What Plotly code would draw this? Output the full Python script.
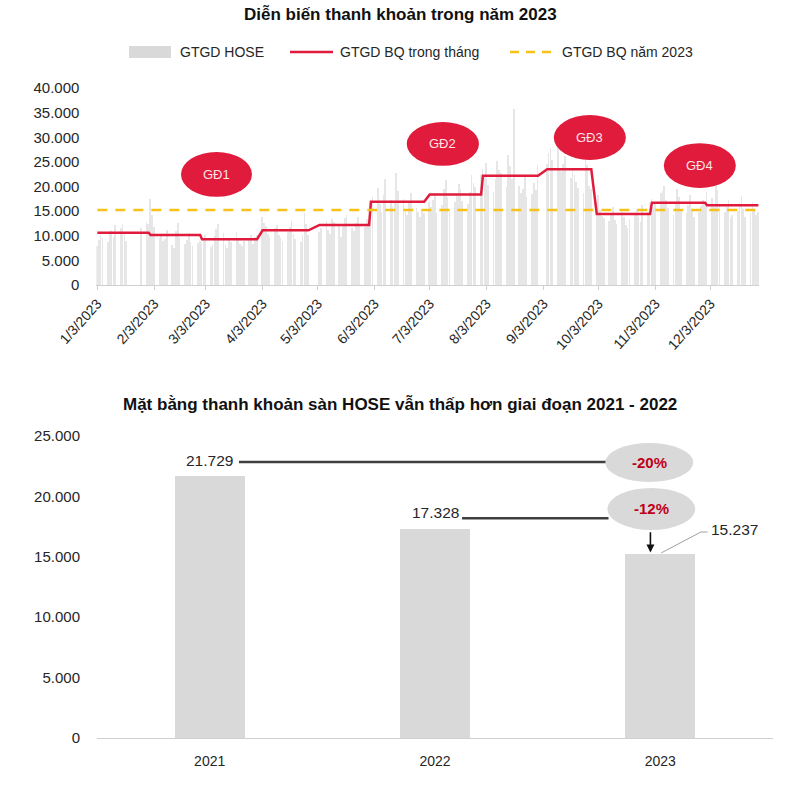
import pandas as pd
import plotly.graph_objects as go

# ---------------- DATA ----------------
holidays = ["2023-01-20", "2023-01-23", "2023-01-24", "2023-01-25", "2023-01-26",
            "2023-05-01", "2023-05-02", "2023-05-03", "2023-09-01", "2023-09-04"]

jan = [7900, 9200, 10100, 9500, 8700, 10900, 11200, 9800, 12100, 11600, 12400, 10300, 8900, 11500, 12800, 12300]
feb = [17500, 14200, 11800, 9600, 10400, 8900, 9300, 11200, 8100, 7600, 10900, 12500, 9800, 8400, 9100, 10600,
       8700, 7900, 8500, 9000]
mar = [8600, 9400, 10200, 7800, 8100, 9900, 11300, 12400, 10600, 8200, 7500, 9100, 8800, 10700, 9500, 8300,
       7900, 8900, 9600, 10100, 8400, 9800, 10200]
apr = [13800, 12600, 11900, 10400, 9800, 11500, 12200, 10100, 9600, 8900, 10700, 11800, 12900, 10300, 9400,
       8800, 10200, 14600, 12400, 10100]
may = [10800, 11600, 12900, 11200, 10400, 13500, 12800, 11900, 9800, 12400, 13700, 14200, 11500, 10900, 12600,
       13800, 12100, 11700, 13400, 12800]
jun = [15200, 17800, 19600, 16400, 14900, 18300, 21500, 17200, 15800, 16600, 22800, 19100, 17400, 15300, 14200,
       16900, 18700, 15600, 14800, 13900, 15100, 14700]
jul = [16800, 15900, 17300, 18600, 14700, 16200, 19500, 21300, 17900, 15400, 16800, 18200, 20600, 19400, 17100,
       16500, 18900, 22400, 20700, 19800, 22400]
aug = [23500, 22100, 24800, 20300, 18900, 21600, 25200, 23400, 22700, 19800, 26300, 24100, 21500, 35800, 20200,
       18600, 19400, 21900, 17800, 18500, 20700, 19300, 24300]
sep = [24600, 26800, 27900, 25300, 28400, 23700, 22900, 24500, 26100, 21800, 23200, 22400, 20900, 19600, 18700,
       25800, 24300, 20100, 19500]
oct_ = [16800, 18200, 15300, 14100, 13600, 12900, 14700, 15800, 13200, 12400, 14900, 13800, 12100, 11600, 13400,
        14200, 15500, 13900, 12700, 16300, 14800, 16600]
nov = [17400, 15800, 16900, 18600, 19000, 20100, 17300, 15600, 14200, 16800, 19400, 17900, 15100, 14600, 16200,
       18300, 15400, 13800, 14900, 16100, 17200, 16800]
dec = [18900, 17600, 15800, 21400, 19200, 16500, 14800, 15900, 17300, 13600, 14200, 15100, 16700, 18100, 15400,
       13900, 14600, 16800, 15200, 14300, 14900]
daily_months = [jan, feb, mar, apr, may, jun, jul, aug, sep, oct_, nov, dec]

monthly_avg = [10630, 10160, 9290, 11100, 12200, 16900, 18400, 22200, 23500, 14400, 16700, 16200]
year_avg_2023 = 15237

month_ticks = ["2023-01-03", "2023-02-03", "2023-03-03", "2023-04-03", "2023-05-03", "2023-06-03",
               "2023-07-03", "2023-08-03", "2023-09-03", "2023-10-03", "2023-11-03", "2023-12-03"]
month_tick_text = ["1/3/2023", "2/3/2023", "3/3/2023", "4/3/2023", "5/3/2023", "6/3/2023",
                   "7/3/2023", "8/3/2023", "9/3/2023", "10/3/2023", "11/3/2023", "12/3/2023"]

years = ["2021", "2022", "2023"]
year_avg = [21729, 17328, 15237]
year_labels = ["21.729", "17.328", "15.237"]
changes = ["-20%", "-12%"]
legend_names = ["GTGD HOSE", "GTGD BQ trong tháng", "GTGD BQ năm 2023"]

# ---------------- BUILD ----------------
dates = pd.bdate_range("2023-01-03", "2023-12-29")
dates = dates[~dates.isin(pd.to_datetime(holidays))]
daily = []
month_line = []
for m, vals in enumerate(daily_months):
    n = int((dates.month == m + 1).sum())
    assert n == len(vals), (m + 1, n, len(vals))
    daily.extend(vals)
    month_line.extend([monthly_avg[m]] * n)

W, H = 800, 796


def fx(X):
    return X / W


def fy(Y):
    return 1 - Y / H


FONT = "Liberation Sans, Arial, sans-serif"
RED = "#e01b3c"
GRAY = "#d9d9d9"
BARGRAY = "#e6e6e6"
YEL = "#f5c21b"
TXT = "#262626"

fig = go.Figure()
fig.add_trace(go.Bar(x=dates, y=daily, name=legend_names[0], marker=dict(color=BARGRAY, line_width=0),
                     width=86400000 * 0.38, xaxis="x", yaxis="y"))
fig.add_trace(go.Scatter(x=dates, y=month_line, mode="lines", name=legend_names[1],
                         line=dict(color=RED, width=2.5), xaxis="x", yaxis="y"))
fig.add_trace(go.Scatter(x=[dates[0], dates[-1]], y=[year_avg_2023, year_avg_2023], mode="lines",
                         name=legend_names[2], line=dict(color=YEL, width=2.5, dash="10px,8px"),
                         xaxis="x", yaxis="y"))
fig.add_trace(go.Bar(x=years, y=year_avg, marker=dict(color=GRAY, line_width=0), width=0.31,
                     xaxis="x2", yaxis="y2"))

shapes = []
annos = []

# custom legend
LY = 52
shapes.append(dict(type="rect", xref="paper", yref="paper", x0=fx(129), x1=fx(171), y0=fy(LY + 6), y1=fy(LY - 6),
                   fillcolor=GRAY, line=dict(width=0)))
shapes.append(dict(type="line", xref="paper", yref="paper", x0=fx(290), x1=fx(333), y0=fy(LY), y1=fy(LY),
                   line=dict(color=RED, width=2.5)))
shapes.append(dict(type="line", xref="paper", yref="paper", x0=fx(510), x1=fx(556), y0=fy(LY), y1=fy(LY),
                   line=dict(color=YEL, width=2.5, dash="9px,7px")))
for xx, name in zip([178, 338, 560], legend_names):
    annos.append(dict(x=fx(xx), y=fy(LY), xref="paper", yref="paper", text=name, showarrow=False,
                      xanchor="left", yanchor="middle", font=dict(family=FONT, size=14, color=TXT)))

# top ellipses
ell = [("GĐ1", "2023-02-17 14:00", "2023-03-28 05:00", 17900, 27000),
       ("GĐ2", "2023-06-20 12:00", "2023-07-29 20:00", 24200, 33100),
       ("GĐ3", "2023-09-08 14:00", "2023-10-17 20:00", 25400, 34500),
       ("GĐ4", "2023-11-07 12:00", "2023-12-16 17:00", 19700, 28800)]
for t, x0, x1, y0, y1 in ell:
    shapes.append(dict(type="circle", xref="x", yref="y", x0=x0, x1=x1, y0=y0, y1=y1,
                       fillcolor=RED, line=dict(width=0), layer="above"))
    xm = pd.Timestamp(x0) + (pd.Timestamp(x1) - pd.Timestamp(x0)) / 2
    annos.append(dict(x=xm, y=(y0 + y1) / 2, xref="x", yref="y", text=t, showarrow=False,
                      font=dict(family=FONT, size=13, color="#fbe3e6")))

# bottom chart annotations
annos.append(dict(x=0, y=23000, xref="x2", yref="y2", text=year_labels[0], showarrow=False,
                  font=dict(family=FONT, size=15.5, color=TXT)))
annos.append(dict(x=1, y=18700, xref="x2", yref="y2", text=year_labels[1], showarrow=False,
                  font=dict(family=FONT, size=15.5, color=TXT)))
annos.append(dict(x=2.33, y=17250, xref="x2", yref="y2", text=year_labels[2], showarrow=False,
                  font=dict(family=FONT, size=15.5, color=TXT)))
shapes.append(dict(type="line", xref="x2", yref="y2", x0=0.13, x1=1.76, y0=22850, y1=22850,
                   line=dict(color="#404040", width=2.5)))
shapes.append(dict(type="line", xref="x2", yref="y2", x0=1.12, x1=1.77, y0=18200, y1=18200,
                   line=dict(color="#404040", width=2.5)))
shapes.append(dict(type="circle", xref="x2", yref="y2", x0=1.756, x1=2.146, y0=21190, y1=24420,
                   fillcolor=GRAY, line=dict(width=0), layer="above"))
shapes.append(dict(type="circle", xref="x2", yref="y2", x0=1.765, x1=2.155, y0=17220, y1=20700,
                   fillcolor=GRAY, line=dict(width=0), layer="above"))
annos.append(dict(x=1.951, y=22800, xref="x2", yref="y2", text="<b>" + changes[0] + "</b>", showarrow=False,
                  font=dict(family=FONT, size=15, color="#c00018")))
annos.append(dict(x=1.96, y=18960, xref="x2", yref="y2", text="<b>" + changes[1] + "</b>", showarrow=False,
                  font=dict(family=FONT, size=15, color="#c00018")))
annos.append(dict(x=1.956, y=15350, xref="x2", yref="y2", ax=1.956, ay=17150, axref="x2", ayref="y2",
                  text="", showarrow=True, arrowhead=2, arrowsize=1, arrowwidth=1.6, arrowcolor="#111"))
shapes.append(dict(type="path", xref="x2", yref="y2",
                   path="M 2.004 15320 L 2.18 17050 L 2.21 17050", line=dict(color="#a0a0a0", width=1)))

# titles
annos.append(dict(x=0.5, y=fy(14), xref="paper", yref="paper", text="<b>Diễn biến thanh khoản trong năm 2023</b>",
                  showarrow=False, yanchor="middle", font=dict(family=FONT, size=17, color="#111")))
annos.append(dict(x=0.5, y=fy(404), xref="paper", yref="paper",
                  text="<b>Mặt bằng thanh khoản sàn HOSE vẫn thấp hơn giai đoạn 2021 - 2022</b>",
                  showarrow=False, yanchor="middle", font=dict(family=FONT, size=17, color="#111")))

fig.update_layout(
    width=W, height=H, margin=dict(l=0, r=0, t=0, b=0),
    paper_bgcolor="white", plot_bgcolor="white",
    separators=",.", bargap=0, barmode="overlay",
    font=dict(family=FONT, size=12, color=TXT),
    showlegend=False,
    xaxis=dict(domain=[fx(96.4), fx(759.3)], type="date",
               range=["2023-01-02 12:00", "2023-12-29 12:00"],
               tickvals=month_ticks, ticktext=month_tick_text, tickangle=-48,
               tickfont=dict(family=FONT, size=14, color=TXT),
               showline=True, linecolor="#d0d0d0", ticks="outside", ticklen=4, tickcolor="#d0d0d0",
               showgrid=False, zeroline=False, anchor="y", automargin=False),
    yaxis=dict(domain=[fy(285), fy(88)], range=[0, 40000], tickvals=list(range(0, 40001, 5000)),
               tickformat=",d", tickfont=dict(family=FONT, size=15, color=TXT), showgrid=False,
               zeroline=False, showline=False, ticks="", anchor="x", automargin=False, ticklabelstandoff=16),
    xaxis2=dict(domain=[fx(97), fx(773)], type="category", range=[-0.5, 2.5],
                tickfont=dict(family=FONT, size=14, color=TXT), showline=True, linecolor="#d0d0d0",
                ticks="", showgrid=False, zeroline=False, anchor="y2", automargin=False, ticklabelstandoff=10),
    yaxis2=dict(domain=[fy(738), fy(436)], range=[0, 25000], tickvals=list(range(0, 25001, 5000)),
                tickformat=",d", tickfont=dict(family=FONT, size=15, color=TXT), showgrid=False,
                zeroline=False, showline=False, ticks="", anchor="x2", automargin=False, ticklabelstandoff=16),
    shapes=shapes, annotations=annos,
)

fig.write_html("out.html", config={"displayModeBar": False},
               post_script="document.body.style.margin='0px';")
